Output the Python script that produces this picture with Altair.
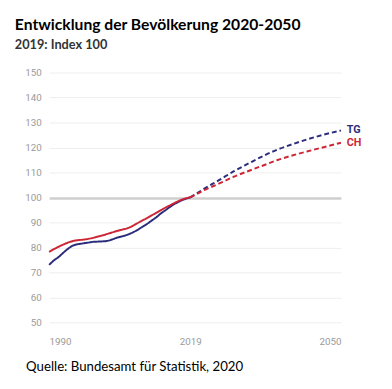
import altair as alt
import pandas as pd

# ---- data ----
hist_years = list(range(1990, 2020))
tg_hist = [73.0, 74.8, 76.2, 78.0, 79.6, 80.8, 81.3, 81.6, 81.9, 82.2,
           82.3, 82.4, 82.6, 83.2, 83.9, 84.4, 85.0, 85.8, 86.8, 88.0,
           89.2, 90.6, 92.0, 93.6, 95.0, 96.4, 97.6, 98.6, 99.4, 100.0]
ch_hist = [78.2, 79.3, 80.3, 81.2, 82.0, 82.6, 82.9, 83.1, 83.4, 83.8,
           84.3, 84.8, 85.4, 86.0, 86.6, 87.1, 87.6, 88.4, 89.5, 90.6,
           91.6, 92.7, 93.8, 94.9, 96.0, 97.0, 98.0, 98.9, 99.6, 100.0]
proj_years = [2019, 2022, 2025, 2028, 2031, 2034, 2037, 2040, 2043, 2046, 2050]
tg_proj = [100.0, 103.6, 107.0, 110.5, 113.6, 116.6, 119.2, 121.3, 123.2, 124.9, 126.8]
ch_proj = [100.0, 103.0, 105.6, 108.3, 110.6, 112.8, 115.0, 116.8, 118.4, 119.9, 121.9]

series_names = ["TG", "CH"]
series_colors = ["#2b2d7c", "#cc2636"]
parts = ["Ist", "Prognose"]
y_ticks = list(range(50, 151, 10))
x_ticks = [1990, 2019, 2050]

title_text = "Entwicklung der Bevölkerung 2020-2050"
subtitle_text = "2019: Index 100"
source_text = "Quelle: Bundesamt für Statistik, 2020"

rows = []
for name, h, p in [("TG", tg_hist, tg_proj), ("CH", ch_hist, ch_proj)]:
    for yr, v in zip(hist_years, h):
        rows.append({"series": name, "part": "Ist", "year": yr, "value": v})
    for yr, v in zip(proj_years, p):
        rows.append({"series": name, "part": "Prognose", "year": yr, "value": v})
df = pd.DataFrame(rows)

FONT = "Lato"
AXFONT = "Roboto"

color = alt.Color("series:N",
                  scale=alt.Scale(domain=series_names, range=series_colors),
                  legend=None)
x = alt.X("year:Q",
          scale=alt.Scale(domain=[1990, 2050], nice=False, zero=False),
          axis=alt.Axis(values=x_ticks, format="d", ticks=False, domain=False,
                        grid=False, labelColor="#9a9a9a", labelFontSize=10,
                        labelFont=AXFONT, labelPadding=15,
                        title=source_text, titleFont=FONT, titleFontSize=13.5,
                        titleFontWeight="normal", titleColor="#000000",
                        titleAnchor="start", titleAlign="left",
                        titleBaseline="alphabetic", titleX=-24, titleY=49))
y = alt.Y("value:Q",
          scale=alt.Scale(domain=[50, 150], nice=False, zero=False),
          axis=alt.Axis(values=y_ticks, ticks=False, domain=False,
                        gridColor=alt.condition("datum.value == 100",
                                                alt.value("#cfcfcf"),
                                                alt.value("#eeeeee")),
                        gridWidth=alt.condition("datum.value == 100",
                                                alt.value(2.5),
                                                alt.value(1)),
                        labelColor="#9a9a9a", labelFontSize=10,
                        labelFont=AXFONT, labelPadding=8, title=None))

base = alt.Chart(df)

lines = base.mark_line(strokeWidth=2, interpolate="monotone").encode(
    x=x, y=y, color=color,
    detail="part:N",
    strokeDash=alt.StrokeDash("part:N",
                              scale=alt.Scale(domain=parts, range=[[1, 0], [5, 3]]),
                              legend=None),
    order="year:Q",
)

labels = base.transform_filter(alt.datum.year == 2050).mark_text(
    align="left", baseline="middle", dx=6, fontWeight="bold", fontSize=11, font=AXFONT
).encode(x=x, y=y, text="series:N", color=color)

chart = alt.layer(lines, labels).properties(
    width=298,
    height=255,
    autosize=alt.AutoSizeParams(type="none"),
    padding={"left": 42, "top": 62, "right": 44, "bottom": 56},
    title=alt.TitleParams(text=title_text, subtitle=subtitle_text,
                          anchor="start", frame="group", dx=-35,
                          font=FONT, fontSize=16, fontWeight="bold", color="#000000",
                          subtitleFont=FONT, subtitleFontSize=13,
                          subtitleFontWeight="bold", subtitleColor="#333333",
                          subtitlePadding=6, offset=16),
).configure_view(stroke=None)

chart.save("out.html", embed_options={"renderer": "svg", "actions": False})
